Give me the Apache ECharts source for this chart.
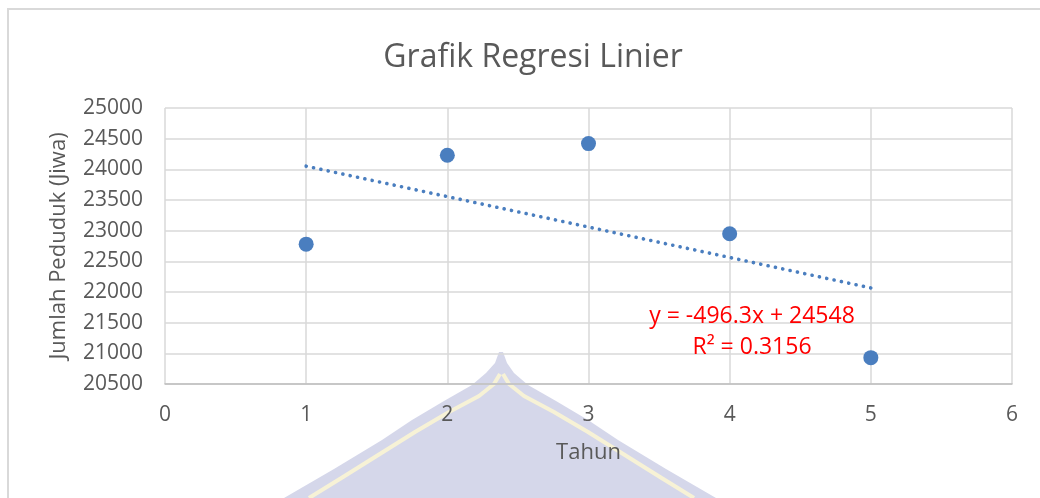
<!DOCTYPE html>
<html>
<head>
<meta charset="utf-8">
<script src="https://cdn.jsdelivr.net/npm/echarts@6/dist/echarts.min.js"></script>
<style>
html,body{margin:0;padding:0;background:#fff;}
#c{width:1040px;height:498px;}
</style>
</head>
<body>
<div id="c"></div>
<script>
// Data
const tahun = [1, 2, 3, 4, 5];
const jumlahPenduduk = [22780, 24230, 24420, 22950, 20930];
const slope = -496.3;
const intercept = 24548;
const rSquared = 0.3156;
const titleText = 'Grafik Regresi Linier';
const xName = 'Tahun';
const yName = 'Jumlah Peduduk (Jiwa)';

const scatterData = tahun.map((t, i) => [t, jumlahPenduduk[i]]);
const xFirst = tahun[0], xLast = tahun[tahun.length - 1];
const trendData = [[xFirst, slope * xFirst + intercept], [xLast, slope * xLast + intercept]];

// decorative watermark (background logo silhouette, not data)
const domePts = [[503,352],[507,363],[514,373],[528,385],[556,401],[588,420],[618,440],[666,469],[716,498],
                 [284,498],[334,469],[382,440],[412,420],[444,401],[472,385],[486,373],[495,363],[499,352]];
const innerRight = [[503,374],[509,384],[524,396],[554,412],[588,432],[620,452],[660,477],[694,498]];
const innerLeft = [[500,374],[494,384],[479,396],[449,412],[415,432],[383,452],[343,477],[309,498]];

const FONT = 'Open Sans';
const chart = echarts.init(document.getElementById('c'), null, {renderer: 'canvas'});
chart.setOption({
  backgroundColor: '#ffffff',
  animation: false,
  textStyle: {fontFamily: FONT},
  title: {
    text: titleText,
    left: 528, top: 37,
    textAlign: 'center',
    textStyle: {fontFamily: FONT, fontSize: 32, fontWeight: 'normal', color: '#595959'}
  },
  grid: {left: 165, right: 28, top: 108, bottom: 114, containLabel: false},
  xAxis: {
    type: 'value', min: 0, max: 6, interval: 1,
    name: xName, nameLocation: 'middle', nameGap: 58,
    nameTextStyle: {fontFamily: FONT, fontSize: 22, color: '#595959'},
    axisLine: {show: true, lineStyle: {color: '#BFBFBF', width: 1.5}},
    axisTick: {show: false},
    axisLabel: {fontFamily: FONT, fontSize: 21, color: '#595959', margin: 21},
    splitLine: {show: true, lineStyle: {color: '#D9D9D9', width: 1.5}}
  },
  yAxis: {
    type: 'value', min: 20500, max: 25000, interval: 500,
    name: yName, nameLocation: 'middle', nameGap: 95, nameRotate: 90,
    nameTextStyle: {fontFamily: FONT, fontSize: 22, color: '#595959'},
    axisLine: {show: false},
    axisTick: {show: false},
    axisLabel: {fontFamily: FONT, fontSize: 21, color: '#595959', margin: 22,
      formatter: v => String(v)},
    splitLine: {show: true, lineStyle: {color: '#D9D9D9', width: 1.5}}
  },
  graphic: [
    {type: 'polyline', z: -10, silent: true,
      shape: {points: [[8, 498], [8, 9], [1040, 9]]},
      style: {stroke: '#D9D9D9', lineWidth: 2, fill: null}},
    {type: 'polygon', z: -5, silent: true,
      shape: {points: domePts},
      style: {fill: '#D5D7EA'}},
    {type: 'polyline', z: -4, silent: true,
      shape: {points: innerRight},
      style: {stroke: '#F7F2D6', lineWidth: 4, fill: null, lineJoin: 'round'}},
    {type: 'polyline', z: -4, silent: true,
      shape: {points: innerLeft},
      style: {stroke: '#F7F2D6', lineWidth: 4, fill: null, lineJoin: 'round'}},
    {type: 'text', z: 50, x: 752, y: 316,
      style: {text: 'y = -496.3x + 24548', fontFamily: FONT, fontSize: 23, fill: '#FF0000',
        textAlign: 'center', textVerticalAlign: 'middle'}},
    {type: 'text', z: 50, x: 752, y: 347,
      style: {text: 'R² = ' + rSquared, fontFamily: FONT, fontSize: 23, fill: '#FF0000',
        textAlign: 'center', textVerticalAlign: 'middle'}}
  ],
  series: [
    {
      type: 'line', data: trendData, symbol: 'none', z: 3,
      lineStyle: {color: '#4A7EBF', width: 3.6, type: [0.1, 7.4], cap: 'round'}
    },
    {
      type: 'scatter', data: scatterData, symbol: 'circle', symbolSize: 15, z: 4,
      itemStyle: {color: '#4A7EBF', opacity: 1}
    }
  ]
});
</script>
</body>
</html>
